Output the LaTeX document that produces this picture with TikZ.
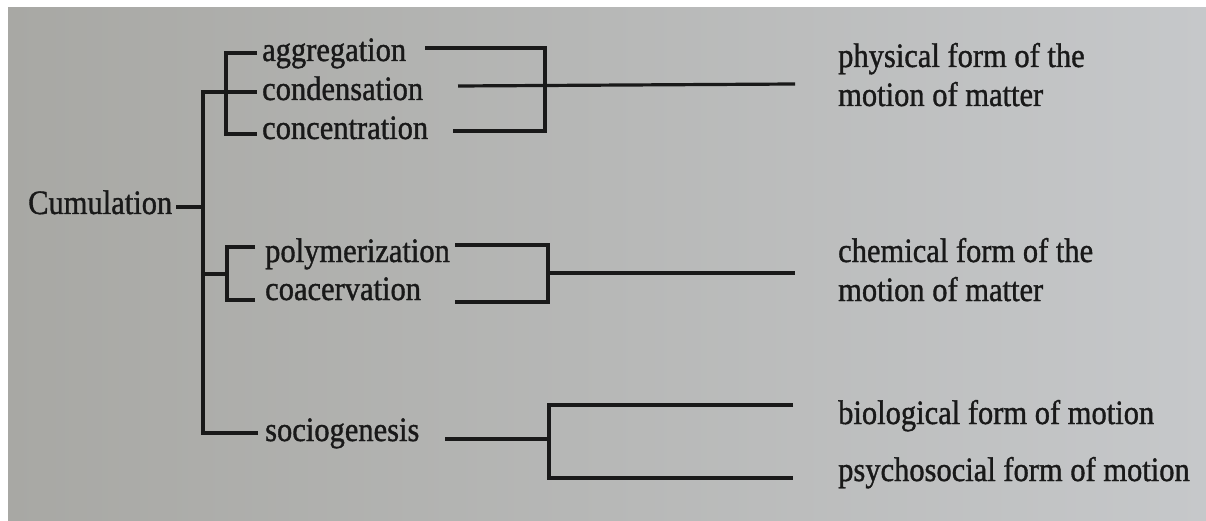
\documentclass[tikz,border=0pt]{standalone}
\usepackage{fontspec}
\setmainfont{Liberation Serif}
\newfontfamily\inkfont[FakeBold=1.2]{Liberation Serif}
\definecolor{ink}{RGB}{25,25,25}
\definecolor{pgL}{RGB}{168,168,164}
\definecolor{pgR}{RGB}{198,200,202}
\newcommand{\tall}[1]{\scalebox{1}[1.12]{#1}}
\begin{document}
\begin{tikzpicture}[x=1pt,y=-1pt,
  lbl/.style={anchor=base west,inner sep=0pt,font=\inkfont\fontsize{30.5}{36}\selectfont,text=ink},
  ln/.style={draw=ink,line width=3.2pt,line join=miter},
]
\useasboundingbox (0,0) rectangle (1206,521);
\fill[white] (0,0) rectangle (1206,521);
\shade[left color=pgL,right color=pgR] (8,8) rectangle (1206,521);

% labels
\node[lbl] (cum) at (28,214) {\tall{Cumulation}};
\node[lbl] (agg) at (262,61) {\tall{aggregation}};
\node[lbl] (con) at (262,100) {\tall{condensation}};
\node[lbl] (cnc) at (262,139) {\tall{concentration}};
\node[lbl] (pol) at (265,262) {\tall{polymerization}};
\node[lbl] (coa) at (265,300) {\tall{coacervation}};
\node[lbl] (soc) at (265,441) {\tall{sociogenesis}};
\node[lbl] (phy1) at (838,67) {\tall{physical form of the}};
\node[lbl] (phy2) at (838,106) {\tall{motion of matter}};
\node[lbl] (che1) at (838,262) {\tall{chemical form of the}};
\node[lbl] (che2) at (838,301) {\tall{motion of matter}};
\node[lbl] (bio) at (838,424) {\tall{biological form of motion}};
\node[lbl] (psy) at (838,481) {\tall{psychosocial form of motion}};

% left tree coordinates
\coordinate (cumT) at (176,207);
\coordinate (mTop) at (203,92);
\coordinate (mCum) at (203,207);
\coordinate (mPol) at (203,274);
\coordinate (mBot) at (203,433);
\coordinate (socL) at (258,433);
\coordinate (b1t) at (226,53);
\coordinate (b1b) at (226,134);
\coordinate (aggL) at (257,53);
\coordinate (conL) at (257,92);
\coordinate (cncL) at (257,134);
\coordinate (b2t) at (227,247);
\coordinate (b2m) at (227,274);
\coordinate (b2b) at (227,300);
\coordinate (polL) at (255,247);
\coordinate (coaL) at (255,300);

\draw[ln] (cumT) -- (mCum);
\draw[ln] (socL) -- (mBot) -- (mTop) -- (conL);
\draw[ln] (aggL) -- (b1t) -- (b1b) -- (cncL);
\draw[ln] (mPol) -- (b2m);
\draw[ln] (polL) -- (b2t) -- (b2b) -- (coaL);

% right brackets coordinates
\coordinate (aggR) at (425,48);
\coordinate (conR) at (458,86);
\coordinate (cncR) at (453,131);
\coordinate (r1t) at (545,48);
\coordinate (r1b) at (545,131);
\coordinate (r1e) at (795,84);
\coordinate (polR) at (455,245);
\coordinate (coaR) at (455,302);
\coordinate (r2t) at (548,245);
\coordinate (r2m) at (548,273);
\coordinate (r2b) at (548,302);
\coordinate (r2e) at (795,273);
\coordinate (socR) at (445,439);
\coordinate (r3m) at (549,439);
\coordinate (r3t) at (549,405);
\coordinate (r3b) at (549,478);
\coordinate (bioE) at (793,405);
\coordinate (psyE) at (793,478);

\draw[ln] (aggR) -- (r1t) -- (r1b) -- (cncR);
\draw[ln] (conR) -- (r1e);
\draw[ln] (polR) -- (r2t) -- (r2b) -- (coaR);
\draw[ln] (r2m) -- (r2e);
\draw[ln] (socR) -- (r3m);
\draw[ln] (bioE) -- (r3t) -- (r3b) -- (psyE);
\end{tikzpicture}
\end{document}
